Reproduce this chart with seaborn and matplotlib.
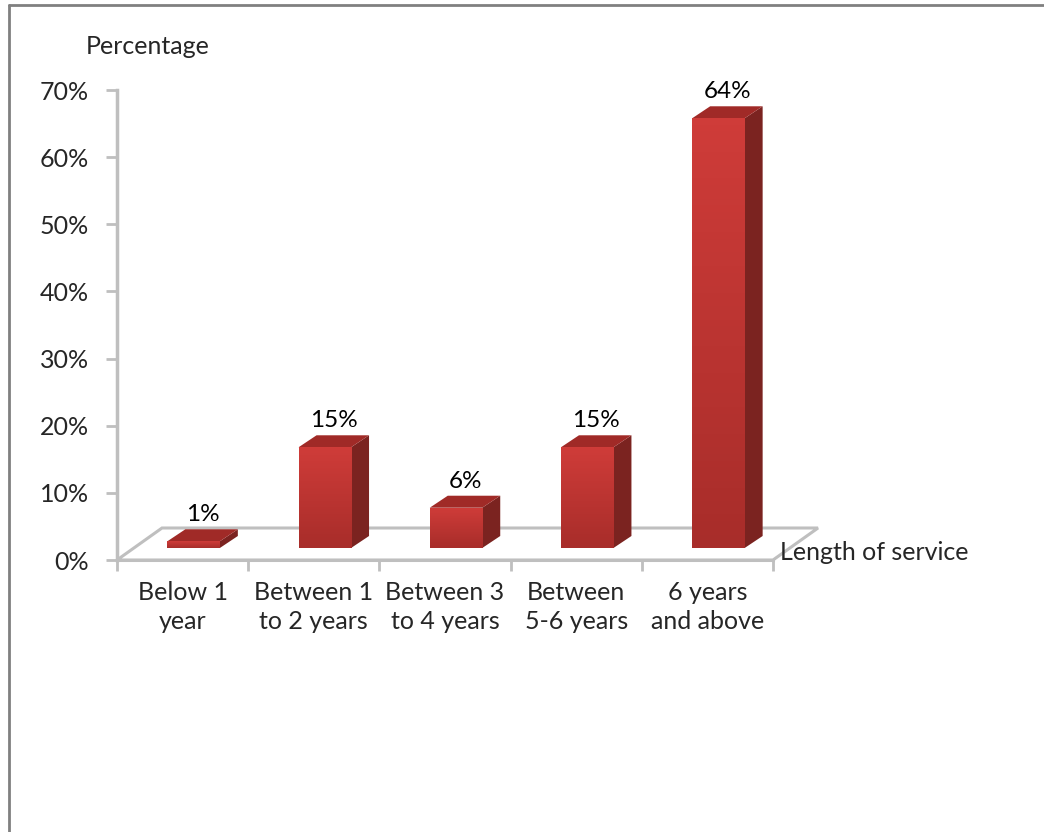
import numpy as np
import pandas as pd
import matplotlib
matplotlib.use("Agg")
import matplotlib.pyplot as plt
from matplotlib.patches import Polygon
from matplotlib.colors import LinearSegmentedColormap
import seaborn as sns

categories = ["Below 1\nyear", "Between 1\nto 2 years", "Between 3\nto 4 years",
              "Between\n5-6 years", "6 years\nand above"]
values = [1, 15, 6, 15, 64]
value_labels = ["1%", "15%", "6%", "15%", "64%"]
y_ticks = [0, 10, 20, 30, 40, 50, 60, 70]
y_tick_labels = ["0%", "10%", "20%", "30%", "40%", "50%", "60%", "70%"]

sns.set_theme(style="white")
plt.rcParams["font.family"] = ["Lato", "DejaVu Sans"]
FS = 18

W, H = 1044, 832
fig = plt.figure(figsize=(W / 100, H / 100), dpi=100)
ax_l, ax_r, ax_t, ax_b = 117, 773, 90, 560
ax = fig.add_axes([ax_l / W, 1 - ax_b / H, (ax_r - ax_l) / W, (ax_b - ax_t) / H])

df = pd.DataFrame({"cat": categories, "val": values})
sns.barplot(data=df, x="cat", y="val", ax=ax, width=0.40, color="#C43834",
            saturation=1, edgecolor="none", zorder=3)
bars = list(ax.patches)

ax.set_xlim(-0.5, 4.5)
ax.set_ylim(0, 70)

pxx = (ax_r - ax_l) / 5.0        # px per category
pxy = (ax_b - ax_t) / 70.0       # px per percent

fdx, fdy = 45 / pxx, 32 / pxy    # floor depth
sx, sy = 11 / pxx, 12 / pxy      # shift of front face
bdx, bdy = 18 / pxx, 12 / pxy    # bar depth

grey = "#BFBFBF"
floor = Polygon([(-0.5, 0), (4.5, 0), (4.5 + fdx, fdy), (-0.5 + fdx, fdy)],
                closed=True, facecolor="white", edgecolor=grey, lw=2.2,
                clip_on=False, zorder=1)
ax.add_patch(floor)

grad = LinearSegmentedColormap.from_list("g", ["#A82D2A", "#CF3C39"])
for i, p in enumerate(bars):
    x0 = p.get_x() + sx
    w = p.get_width()
    h = p.get_height()
    y0 = sy
    p.set_x(x0)
    p.set_y(y0)
    p.set_clip_on(False)
    x1 = x0 + w
    y1 = y0 + h
    im = ax.imshow(np.linspace(0, 1, 64).reshape(-1, 1), cmap=grad, aspect="auto",
                   extent=(x0, x1, y0, y1), origin="lower", zorder=3.1)
    im.set_clip_path(p)
    side = Polygon([(x1, y0), (x1 + bdx, y0 + bdy), (x1 + bdx, y1 + bdy), (x1, y1)],
                   closed=True, facecolor="#7B2320", edgecolor="none",
                   clip_on=False, zorder=3)
    ax.add_patch(side)
    top = Polygon([(x0, y1), (x1, y1), (x1 + bdx, y1 + bdy), (x0 + bdx, y1 + bdy)],
                  closed=True, facecolor="#A02A27", edgecolor="none",
                  clip_on=False, zorder=3)
    ax.add_patch(top)
    ax.annotate(value_labels[i], (x0 + w / 2 + bdx / 2, y1 + bdy),
                xytext=(0, 3), textcoords="offset points", ha="center",
                va="bottom", fontsize=FS - 0.5, color="black", annotation_clip=False)

ax.set_xlim(-0.5, 4.5)
ax.set_ylim(0, 70)

for s in ["top", "right"]:
    ax.spines[s].set_visible(False)
ax.spines["left"].set_color(grey)
ax.spines["left"].set_linewidth(2.5)
ax.spines["bottom"].set_color(grey)
ax.spines["bottom"].set_linewidth(2.2)
ax.set_yticks(y_ticks)
ax.set_yticklabels(y_tick_labels, fontsize=FS)
ax.set_xticks([0, 1, 2, 3, 4])
ax.set_xticklabels(categories, fontsize=FS, linespacing=1.35)
ax.xaxis.set_minor_locator(matplotlib.ticker.FixedLocator([-0.5, 0.5, 1.5, 2.5, 3.5, 4.5]))
ax.tick_params(axis="x", which="major", length=0, pad=15)
ax.tick_params(axis="x", which="minor", length=8, width=2, color=grey, bottom=True)
ax.tick_params(axis="y", length=8, width=2, color=grey, left=True, pad=12)
ax.set_xlabel("")
ax.set_ylabel("")
ax.grid(False)

fig.text(148 / W, 1 - 47 / H, "Percentage", ha="center", va="center", fontsize=FS)
fig.text(780 / W, 1 - 553 / H, "Length of service", ha="left", va="center", fontsize=FS)

fig.add_artist(plt.Line2D([9 / W, 1], [1 - 5 / H, 1 - 5 / H], color="#808080", lw=2,
                          transform=fig.transFigure))
fig.add_artist(plt.Line2D([9 / W, 9 / W], [0, 1 - 5 / H], color="#808080", lw=2,
                          transform=fig.transFigure))

fig.savefig("out.png", dpi=100, facecolor="white")
